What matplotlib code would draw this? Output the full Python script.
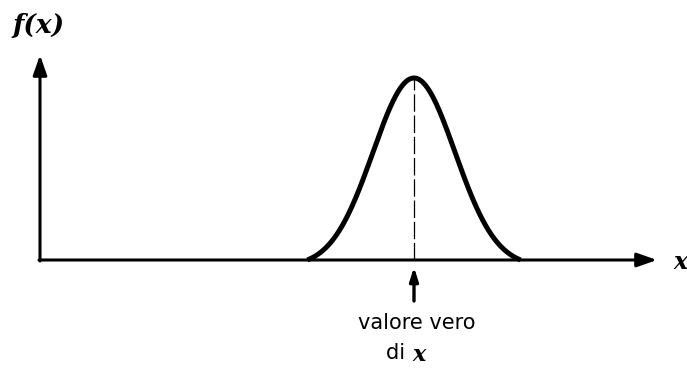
import numpy as np
import matplotlib.pyplot as plt

# curva di distribuzione attorno al valore vero (unita' dell'asse arbitrarie)
mu = 3.74        # valore vero di x
sigma = 0.41
cut = 2.6        # la curva si chiude sull'asse a mu +/- cut*sigma
peak = 1.82      # altezza massima di f(x)
x_end = 6.17     # lunghezza asse x
y_end = 2.05     # lunghezza asse y

x = np.linspace(mu - cut * sigma, mu + cut * sigma, 300)
g = np.exp(-0.5 * ((x - mu) / sigma) ** 2)
g_end = np.exp(-0.5 * cut ** 2)
fx = peak * (g - g_end) / (1 - g_end)

fig = plt.figure(figsize=(6.87, 3.70), dpi=100)
ax = fig.add_axes([0, 0, 1, 1])
ax.set_xlim(-0.40, 6.47)
ax.set_ylim(-1.10, 2.60)
ax.axis('off')

head = '-|>,head_length=1.2,head_width=0.42'

# assi con frecce
ax.annotate('', xy=(x_end, 0), xytext=(-0.01, 0),
            arrowprops=dict(arrowstyle=head, lw=2.2, color='black', shrinkA=0, shrinkB=0))
ax.annotate('', xy=(0, y_end), xytext=(0, -0.01),
            arrowprops=dict(arrowstyle=head, lw=2.2, color='black', shrinkA=0, shrinkB=0))

# curva
ax.plot(x, fx, color='black', lw=3.6, solid_capstyle='butt')

# linea tratteggiata dal picco
ax.plot([mu, mu], [0, peak], color='black', lw=0.9, dashes=(14, 3))

# freccia del valore vero
ax.annotate('', xy=(mu, -0.07), xytext=(mu, -0.41),
            arrowprops=dict(arrowstyle='-|>,head_length=0.8,head_width=0.25', lw=2.4,
                            color='black', shrinkA=0, shrinkB=0))

ax.text(-0.01, 2.35, 'f(x)', fontsize=19, ha='center', va='center',
        family='DejaVu Serif', style='italic', fontweight='bold')
ax.text(6.40, -0.02, 'x', fontsize=17, ha='center', va='center', family='DejaVu Serif',
        style='italic', fontweight='bold')
ax.text(mu + 0.03, -0.63, 'valore vero', fontsize=15, ha='center', va='center')
ax.text(mu - 0.02, -0.93, 'di ', fontsize=15, ha='right', va='center')
ax.text(mu - 0.02, -0.95, 'x', fontsize=16, ha='left', va='center', family='DejaVu Serif',
        style='italic', fontweight='bold')

fig.savefig('out.png', dpi=100)
